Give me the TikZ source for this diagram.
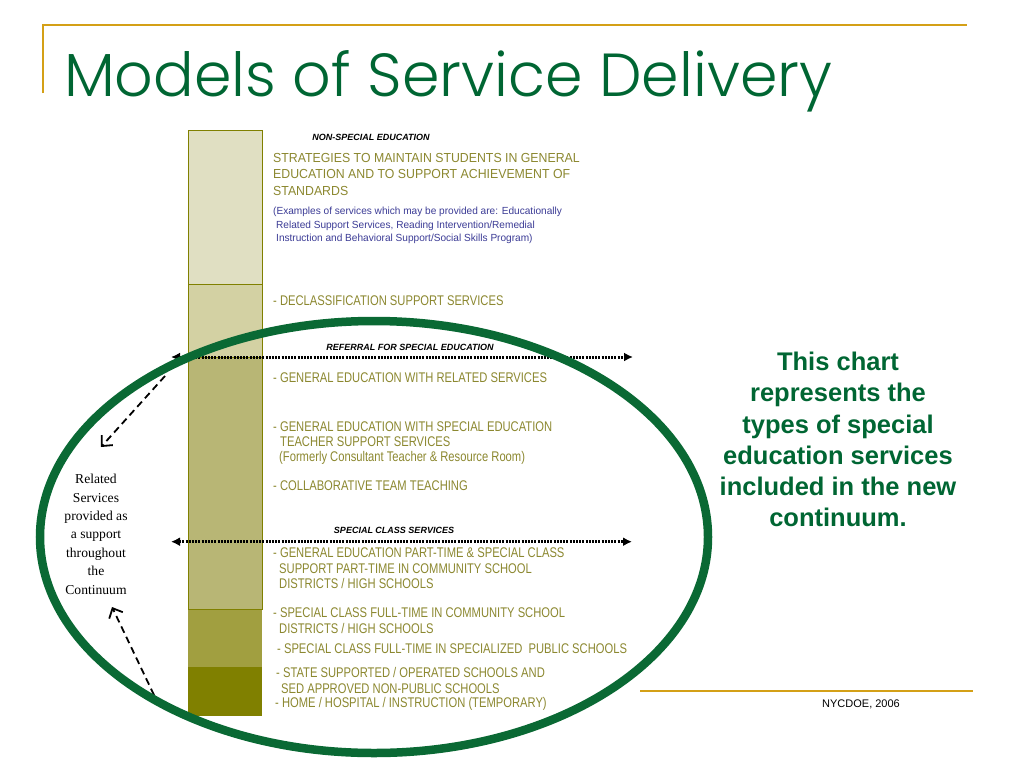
\documentclass[tikz,border=0pt]{standalone}
\usepackage{fontspec}
\usepackage{graphicx}
\usetikzlibrary{arrows.meta}
\setmainfont{Liberation Sans}
\newfontfamily\titlefont{Poppins Light}
\newfontfamily\topfont[FakeStretch=0.94]{Liberation Sans}
\newfontfamily\olfont[FakeStretch=0.8]{Liberation Sans}
\newfontfamily\bluefont[FakeStretch=0.98]{Liberation Sans}
\newfontfamily\serifed{Liberation Serif}
\definecolor{gold}{RGB}{212,160,23}
\definecolor{titlegreen}{RGB}{0,102,51}
\definecolor{ellgreen}{RGB}{10,105,52}
\definecolor{oltext}{RGB}{140,136,48}
\definecolor{bluetext}{RGB}{60,60,150}
\definecolor{barA}{RGB}{224,223,194}
\definecolor{barB}{RGB}{211,209,163}
\definecolor{barC}{RGB}{184,182,117}
\definecolor{barD}{RGB}{161,159,64}
\definecolor{barE}{RGB}{128,128,0}
\definecolor{barline}{RGB}{128,128,0}
\tikzset{
  seg/.style={draw=barline, line width=1pt},
  tl/.style={anchor=base west, inner sep=0pt, text=oltext, font=\topfont\fontsize{13.1}{15}\selectfont},
  ol/.style={anchor=base west, inner sep=0pt, text=oltext, font=\olfont\fontsize{14}{16}\selectfont},
  bl/.style={anchor=base west, inner sep=0pt, text=bluetext, font=\bluefont\fontsize{10.3}{12}\selectfont},
  hdr/.style={anchor=base, inner sep=0pt, text=black, font=\bfseries\itshape\fontsize{9}{10}\selectfont},
  dotarrow/.style={line width=3pt, dash pattern=on 2pt off 1.2pt, {Latex[length=9pt,width=9pt]}-{Latex[length=9pt,width=9pt]}},
  dasharrow/.style={line width=1.8pt, dash pattern=on 7pt off 4.5pt, -{Straight Barb[length=8pt,width=15pt,line width=1.8pt]}},
}
\begin{document}
\begin{tikzpicture}[x=1pt,y=-1pt]
\useasboundingbox (0,0) rectangle (1024,768);
\fill[white] (0,0) rectangle (1024,768);
% decorative lines
\draw[gold, line width=2pt] (43,93) -- (43,25) -- (967,25);
\draw[gold, line width=2pt] (640,691) -- (973,691);
% title
\node[anchor=base west, inner sep=0pt, text=titlegreen] (title) at (64,96)
  {\resizebox{768pt}{46pt}{\titlefont Models of Service Delivery}};
\node[anchor=base, inner sep=0pt, font=\fontsize{11}{12}\selectfont] (foot) at (861,707) {NYCDOE, 2006};
% bar
\filldraw[seg, fill=barA] (188,130) rectangle (262,284);
\filldraw[seg, fill=barB] (188,284) rectangle (262,357);
\filldraw[seg, fill=barC] (188,357) rectangle (262,609);
\fill[barD] (188,609) rectangle (262,667);
\draw[barline, line width=1pt] (188,609) -- (262,609);
\fill[barE] (188,667) rectangle (262,716);
\node (bar) [inner sep=0pt, minimum width=74pt, minimum height=586pt, anchor=north west] at (188,130) {};
% headers
\node[hdr] (h1) at (371,140) {NON-SPECIAL EDUCATION};
\node[hdr] (h2) at (410,350.7) {REFERRAL FOR SPECIAL EDUCATION};
\node[hdr] (h3) at (394,533.3) {SPECIAL CLASS SERVICES};
% top block
\node[tl] (t1) at (273,162.7) {STRATEGIES TO MAINTAIN STUDENTS IN GENERAL};
\node[tl] (t2) at (273,178.9) {EDUCATION AND TO SUPPORT ACHIEVEMENT OF};
\node[tl] (t3) at (273,195.1) {STANDARDS};
\node[bl] (b1) at (273,214.5) {(Examples of services which may be provided are: Educationally};
\node[bl] (b2) at (276,228) {Related Support Services, Reading Intervention/Remedial};
\node[bl] (b3) at (276,241.5) {Instruction and Behavioral Support/Social Skills Program)};
\node[ol] (d1) at (273,305) {- DECLASSIFICATION SUPPORT SERVICES};
\node[ol] (g1) at (273,382.7) {- GENERAL EDUCATION WITH RELATED SERVICES};
\node[ol] (g2) at (273,431.7) {- GENERAL EDUCATION WITH SPECIAL EDUCATION};
\node[ol] (g3) at (280,446.7) {TEACHER SUPPORT SERVICES};
\node[ol] (g4) at (279,461.7) {(Formerly Consultant Teacher \& Resource Room)};
\node[ol] (c1) at (273,490.7) {- COLLABORATIVE TEAM TEACHING};
\node[ol] (p1) at (273,557.3) {- GENERAL EDUCATION PART-TIME \& SPECIAL CLASS};
\node[ol] (p2) at (279,573) {SUPPORT PART-TIME IN COMMUNITY SCHOOL};
\node[ol] (p3) at (279,588) {DISTRICTS / HIGH SCHOOLS};
\node[ol] (s1) at (273,617) {- SPECIAL CLASS FULL-TIME IN COMMUNITY SCHOOL};
\node[ol] (s2) at (279,633) {DISTRICTS / HIGH SCHOOLS};
\node[ol] (s3) at (277,653) {- SPECIAL CLASS FULL-TIME IN SPECIALIZED\ \ PUBLIC SCHOOLS};
\node[ol] (st1) at (276,677) {- STATE SUPPORTED / OPERATED SCHOOLS AND};
\node[ol] (st2) at (281,693) {SED APPROVED NON-PUBLIC SCHOOLS};
\node[ol] (st3) at (275,707) {- HOME / HOSPITAL / INSTRUCTION (TEMPORARY)};
% dotted arrows
\coordinate (rL) at (171,357);
\coordinate (rR) at (633,357);
\coordinate (sL) at (171,541.7);
\coordinate (sR) at (632,541.7);
\draw[dotarrow] (rL) -- (rR);
\draw[dotarrow] (sL) -- (sR);
% left text
\node[anchor=north, inner sep=0pt, align=center, font=\serifed\fontsize{13.6}{18.4}\selectfont] (rel) at (96,474)
  {Related\\Services\\provided as\\a support\\throughout\\the\\Continuum};
\coordinate (da1) at (165,376);
\coordinate (da1end) at (101,447);
\coordinate (da2) at (154,695);
\coordinate (da2end) at (112,607);
\draw[dasharrow] (da1) -- (da1end);
\draw[dasharrow] (da2) -- (da2end);
% ellipse
\draw[ellgreen, line width=8.5pt] (374,537) ellipse [x radius=334pt, y radius=216pt];
% right text
\node[anchor=north, inner sep=0pt, align=center, text=titlegreen, font=\bfseries\fontsize{25.5}{31.2}\selectfont] (note) at (838,352)
  {This chart\\represents the\\types of special\\education services\\included in the new\\continuum.};
\end{tikzpicture}
\end{document}
